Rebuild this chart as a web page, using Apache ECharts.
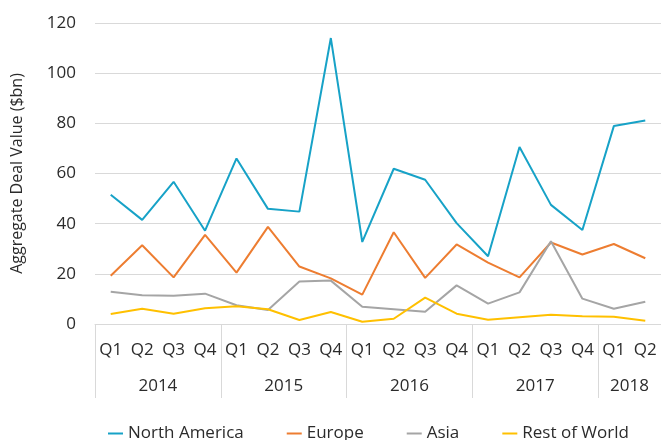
<!DOCTYPE html>
<html>
<head>
<meta charset="utf-8">
<script src="https://cdn.jsdelivr.net/npm/echarts@6/dist/echarts.min.js"></script>
<style>
  html, body { margin: 0; padding: 0; background: #fff; }
  #chart { width: 661px; height: 440px; }
</style>
</head>
<body>
<div id="chart"></div>
<script>
  // data
  var years = ['2014', '2015', '2016', '2017', '2018']
  var quartersPerYear = [4, 4, 4, 4, 2]
  var quarterNames = ['Q1', 'Q2', 'Q3', 'Q4']

  var northAmerica = [51.5, 41.5, 56.7, 37.2, 66.0, 45.9, 44.8, 114.0, 32.7, 61.9, 57.5, 40.2, 27.0, 70.6, 47.5, 37.5, 78.9, 81.1]
  var europe = [19.2, 31.4, 18.6, 35.5, 20.5, 38.7, 22.9, 18.2, 11.7, 36.6, 18.4, 31.7, 24.5, 18.6, 32.5, 27.7, 31.9, 26.2]
  var asia = [12.9, 11.5, 11.3, 12.1, 7.5, 5.6, 16.9, 17.3, 6.9, 5.9, 4.9, 15.4, 8.1, 12.6, 33.0, 10.1, 6.1, 8.9]
  var restOfWorld = [4.0, 6.1, 4.1, 6.3, 7.1, 5.9, 1.6, 4.8, 0.9, 2.1, 10.5, 4.1, 1.7, 2.7, 3.7, 3.1, 2.9, 1.3]

  // build quarter categories and the centre of each year group
  var categories = []
  var yearCentres = {}
  var groupStarts = {}
  var start = 0
  years.forEach(function (y, i) {
    groupStarts[start] = true
    for (var q = 0; q < quartersPerYear[i]; q++) categories.push(quarterNames[q])
    yearCentres[start + quartersPerYear[i] / 2] = y
    start += quartersPerYear[i]
  })

  var font = '"Open Sans", sans-serif'
  var textColor = '#2b2b2b'
  var gridColor = '#d9d9d9'

  function lineSeries(name, data, color) {
    return {
      name: name,
      type: 'line',
      data: data,
      showSymbol: false,
      symbol: 'none',
      lineStyle: { width: 2, color: color },
      itemStyle: { color: color }
    }
  }

  var chart = echarts.init(document.getElementById('chart'))
  chart.setOption({
    animation: false,
    textStyle: { fontFamily: font },
    grid: { left: 95, right: 0, top: 23, bottom: 116, containLabel: false, outerBoundsMode: 'none' },
    legend: {
      left: 103,
      top: 420,
      itemWidth: 15,
      itemHeight: 2,
      itemGap: 43,
      icon: 'rect',
      textStyle: { fontFamily: font, fontSize: 17, color: textColor },
      data: ['North America', 'Europe', 'Asia', 'Rest of World']
    },
    xAxis: [{
      type: 'category',
      data: categories,
      boundaryGap: true,
      axisLine: { lineStyle: { color: gridColor, width: 1 } },
      axisTick: {
        show: true,
        length: 74,
        interval: function (index) { return !!groupStarts[index] },
        lineStyle: { color: gridColor, width: 1 }
      },
      axisLabel: { fontFamily: font, fontSize: 17, color: textColor, margin: 18, interval: 0 }
    }, {
      type: 'value',
      position: 'bottom',
      min: 0,
      max: 18,
      interval: 1,
      axisLine: { show: false },
      axisTick: { show: false },
      splitLine: { show: false },
      axisLabel: {
        fontFamily: font, fontSize: 17, color: textColor, margin: 54, showMinLabel: true, showMaxLabel: true,
        formatter: function (v) { return yearCentres[v] || '' }
      }
    }],
    yAxis: {
      type: 'value',
      min: 0,
      max: 120,
      interval: 20,
      name: 'Aggregate Deal Value ($bn)',
      nameLocation: 'middle',
      nameGap: 70,
      nameTextStyle: { fontFamily: font, fontSize: 16, color: textColor },
      axisLine: { show: false },
      axisTick: { show: false },
      splitLine: { lineStyle: { color: gridColor, width: 1 } },
      axisLabel: { fontFamily: font, fontSize: 17, color: textColor, margin: 19 }
    },
    series: [
      lineSeries('North America', northAmerica, '#17a2c7'),
      lineSeries('Europe', europe, '#ed7d31'),
      lineSeries('Asia', asia, '#a5a5a5'),
      lineSeries('Rest of World', restOfWorld, '#ffc000')
    ]
  })
</script>
</body>
</html>
